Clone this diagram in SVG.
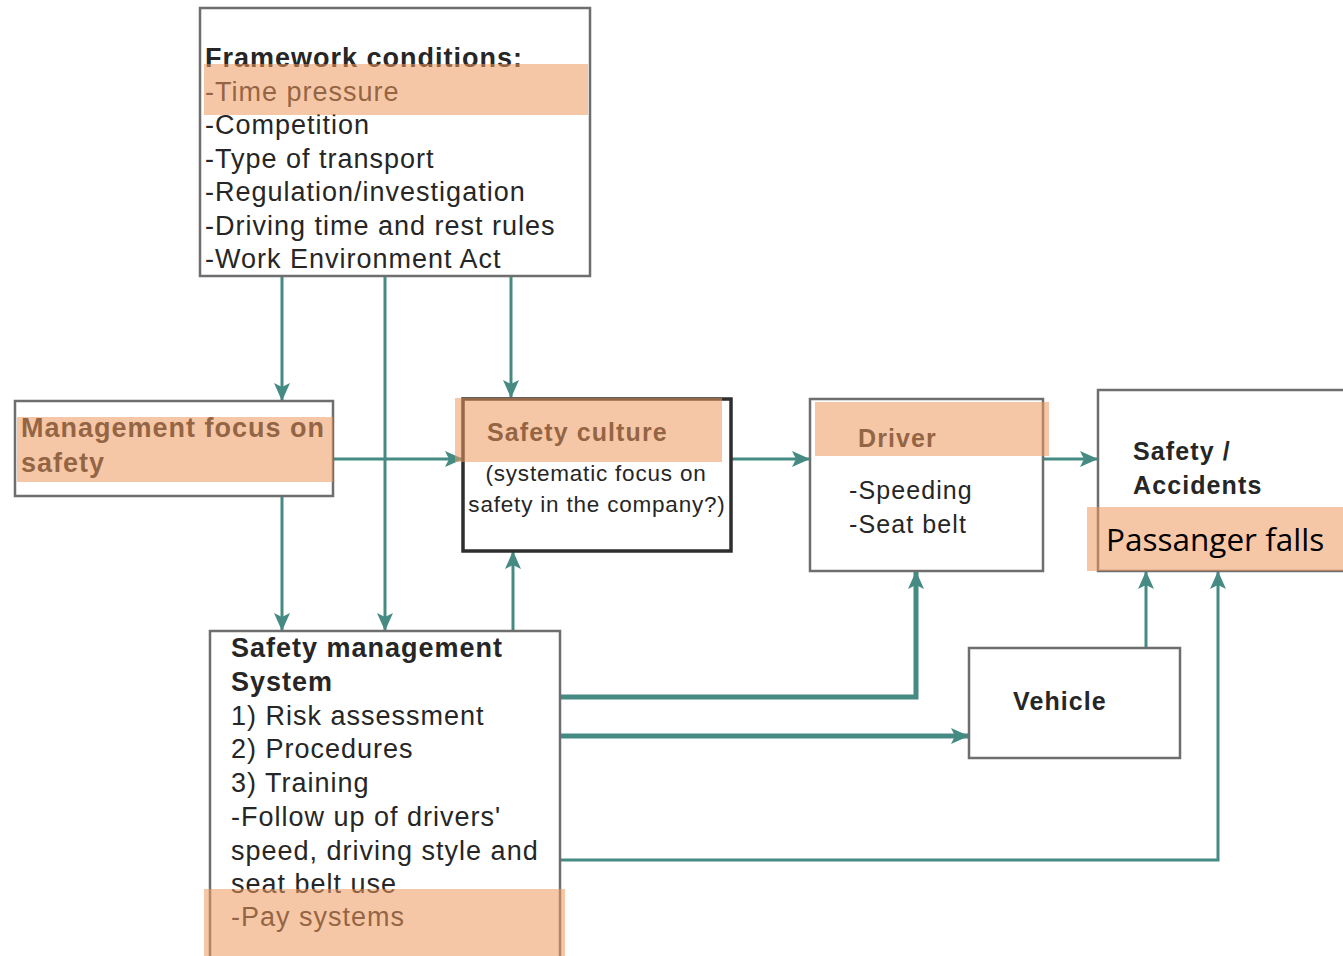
<svg xmlns="http://www.w3.org/2000/svg" width="1343" height="956" viewBox="0 0 1343 956">
<defs>
<style>
.box{fill:#fff;stroke:#6e6e6e;stroke-width:2.5}
.t{font-family:"Liberation Sans",Arial,sans-serif;font-size:27px;letter-spacing:1px;fill:#262626}
.b{font-weight:bold}
.s{font-size:22.5px;letter-spacing:0.8px}
.m{font-size:25px;letter-spacing:1.1px}
.hl{fill:#ee995d;fill-opacity:0.55}
.c{fill:none;stroke:#458a83;stroke-width:3}
.thick{stroke-width:5}
</style>
<marker id="ah" viewBox="0 0 18 16" refX="17" refY="8" markerWidth="18" markerHeight="16" markerUnits="userSpaceOnUse" orient="auto">
<path d="M0,0 L18,8 L0,16 L4,8 Z" fill="#458a83"/>
</marker>
</defs>
<rect width="1343" height="956" fill="#fff"/>
<g id="connectors">
<path class="c" d="M282,276 V400" marker-end="url(#ah)"/>
<path class="c" d="M385,276 V630" marker-end="url(#ah)"/>
<path class="c" d="M511,276 V397" marker-end="url(#ah)"/>
<path class="c" d="M333,459 H462" marker-end="url(#ah)"/>
<path class="c" d="M282,496 V630" marker-end="url(#ah)"/>
<path class="c" d="M513,631 V552" marker-end="url(#ah)"/>
<path class="c" d="M731,459 H809" marker-end="url(#ah)"/>
<path class="c" d="M1043,459 H1097" marker-end="url(#ah)"/>
<path class="c thick" d="M560,697 H916 V572" marker-end="url(#ah)"/>
<path class="c thick" d="M560,736 H968" marker-end="url(#ah)"/>
<path class="c" d="M1146,648 V572" marker-end="url(#ah)"/>
<path class="c" d="M560,860 H1218 V572" marker-end="url(#ah)"/>
</g>
<g id="framework">
<rect class="box" x="200" y="8" width="390" height="268"/>
<text class="t b" x="205" y="67">Framework conditions:</text>
<text class="t" x="205" y="101">-Time pressure</text>
<text class="t" x="205" y="134">-Competition</text>
<text class="t" x="205" y="168">-Type of transport</text>
<text class="t" x="205" y="201">-Regulation/investigation</text>
<text class="t" x="205" y="235">-Driving time and rest rules</text>
<text class="t" x="205" y="268">-Work Environment Act</text>
<rect class="hl" x="204" y="64" width="384" height="51"/>
</g>
<g id="management">
<rect class="box" x="15" y="401" width="318" height="95"/>
<text class="t b" x="21" y="437">Management focus on</text>
<text class="t b" x="21" y="472">safety</text>
<rect class="hl" x="17" y="417" width="316" height="65"/>
</g>
<g id="culture">
<rect class="box" x="463" y="399" width="268" height="152" style="stroke:#2e2e2e;stroke-width:3.5"/>
<text class="t b m" x="487" y="441">Safety culture</text>
<text class="t s" x="596" y="481" text-anchor="middle">(systematic focus on</text>
<text class="t s" x="597" y="512" text-anchor="middle">safety in the company?)</text>
<rect class="hl" x="455" y="398" width="267" height="64"/>
</g>
<g id="driver">
<rect class="box" x="810" y="399" width="233" height="172"/>
<text class="t b m" x="858" y="447">Driver</text>
<text class="t m" x="849" y="499">-Speeding</text>
<text class="t m" x="849" y="533">-Seat belt</text>
<rect class="hl" x="815" y="402" width="234" height="54"/>
</g>
<g id="safety">
<rect class="box" x="1098" y="390" width="250" height="181"/>
<text class="t b m" x="1133" y="460">Safety /</text>
<text class="t b m" x="1133" y="494">Accidents</text>
<rect class="hl" x="1087" y="507" width="256" height="64"/>
<text x="1106" y="551" style="font-family:'Open Sans','Noto Sans',sans-serif;font-size:31.5px;fill:#000">Passanger falls</text>
</g>
<g id="vehicle">
<rect class="box" x="969" y="648" width="211" height="110"/>
<text class="t b m" x="1013" y="710">Vehicle</text>
</g>
<g id="sms">
<rect class="box" x="210" y="631" width="350" height="328"/>
<text class="t b" x="231" y="657">Safety management</text>
<text class="t b" x="231" y="691">System</text>
<text class="t" x="231" y="725">1) Risk assessment</text>
<text class="t" x="231" y="758">2) Procedures</text>
<text class="t" x="231" y="792">3) Training</text>
<text class="t" x="231" y="826">-Follow up of drivers'</text>
<text class="t" x="231" y="860">speed, driving style and</text>
<text class="t" x="231" y="893">seat belt use</text>
<text class="t" x="231" y="926">-Pay systems</text>
<rect class="hl" x="204" y="889" width="361" height="67"/>
</g>
</svg>
